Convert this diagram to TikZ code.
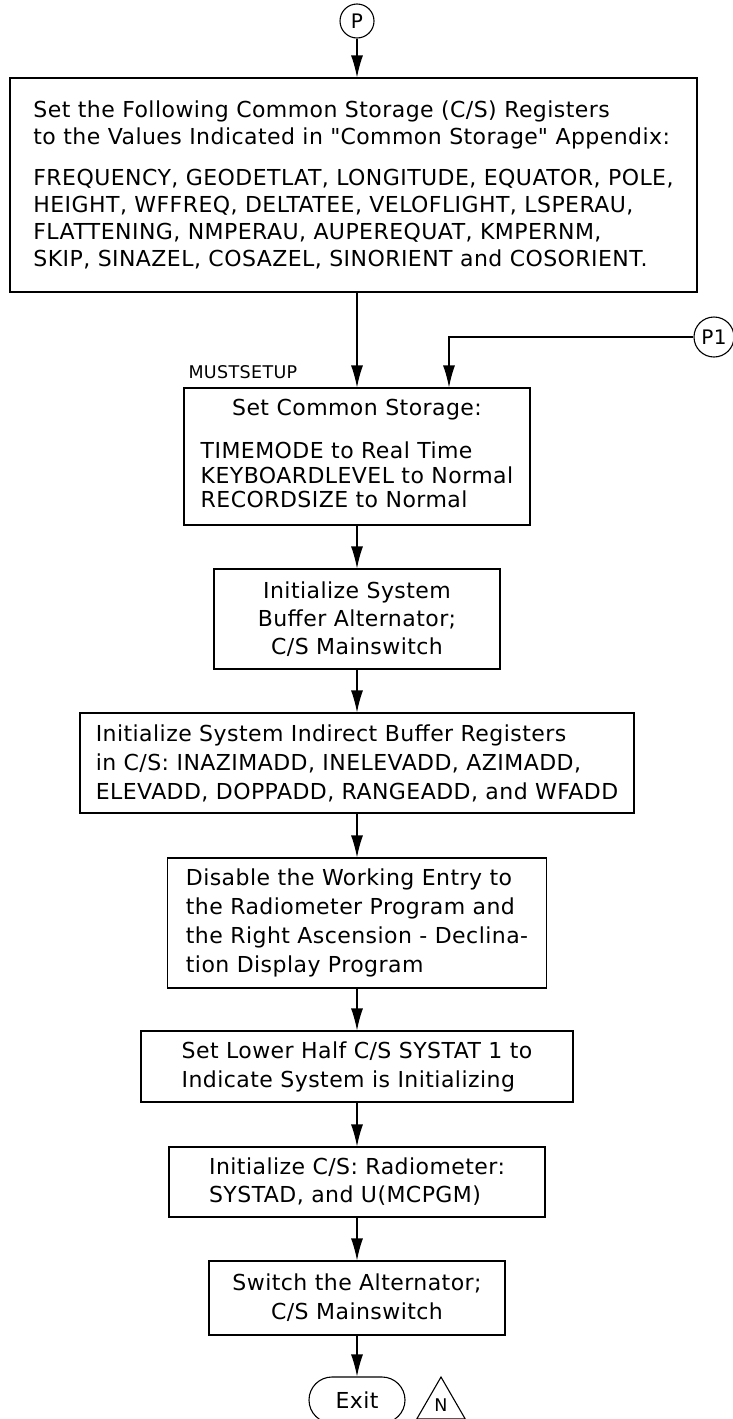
\documentclass[tikz,border=0pt]{standalone}
\usepackage{fontspec}
\setmainfont{DejaVu Sans}[LetterSpace=2]
\usetikzlibrary{arrows.meta,shapes.geometric,shapes.misc}

\begin{document}
\begin{tikzpicture}[x=1pt,y=-1pt,line width=1.1pt,
	>={Latex[length=22pt,width=12pt]},
	txt/.style={font=\fontsize{22}{28}\selectfont},
	stepbox/.style={draw,rectangle,inner sep=0pt,txt},
	conn/.style={draw,circle,inner sep=0pt,minimum size=#1,font=\fontsize{20}{20}\selectfont},
	lbl/.style={font=\fontsize{17.5}{17.5}\selectfont,inner sep=0pt}]
	\useasboundingbox (0,0) rectangle (732,1419);
	\node[conn=34pt] (p) at (357,21) {P};
	\node[conn=40pt] (p1) at (714,337) {P1};
	\node[stepbox,minimum width=687pt,minimum height=214pt,align=left,font=\fontsize{22}{27}\selectfont] (b1) at (353.5,185)
		{Set the Following Common Storage (C/S) Registers\\
		to the Values Indicated in \textquotedbl Common Storage\textquotedbl{} Appendix:\\[14pt]
		FREQUENCY, GEODETLAT, LONGITUDE, EQUATOR, POLE,\\
		HEIGHT, WFFREQ, DELTATEE, VELOFLIGHT, LSPERAU,\\
		FLATTENING, NMPERAU, AUPEREQUAT, KMPERNM,\\
		SKIP, SINAZEL, COSAZEL, SINORIENT and COSORIENT.};
	\node[stepbox,minimum width=346pt,minimum height=137pt,font=\fontsize{22}{24.5}\selectfont] (b2) at (357,456.5)
		{\begin{tabular}{@{}l@{}}
		\multicolumn{1}{@{}c@{}}{Set Common Storage:}\\[19pt]
		TIMEMODE to Real Time\\
		KEYBOARDLEVEL to Normal\\
		RECORDSIZE to Normal
		\end{tabular}};
	\node[lbl,anchor=base west] (mustsetup) at (188,378) {MUSTSETUP};
	\node[stepbox,minimum width=286pt,minimum height=100pt,align=center] (b3) at (357,619)
		{Initialize System\\ Buffer Alternator;\\ C/S Mainswitch};
	\node[stepbox,minimum width=554pt,minimum height=100pt,align=left,font=\fontsize{22}{29}\selectfont] (b4) at (357,763)
		{Initialize System Indirect Buffer Registers\\
		in C/S: INAZIMADD, INELEVADD, AZIMADD,\\
		ELEVADD, DOPPADD, RANGEADD, and WFADD};
	\node[stepbox,minimum width=379pt,minimum height=130pt,align=left,font=\fontsize{22}{29}\selectfont] (b5) at (357,923)
		{Disable the Working Entry to\\
		the Radiometer Program and\\
		the Right Ascension - Declina-\\
		tion Display Program};
	\node[stepbox,minimum width=432pt,minimum height=71pt,align=left,font=\fontsize{22}{29}\selectfont] (b6) at (357,1066.5)
		{Set Lower Half C/S SYSTAT 1 to\\ Indicate System is Initializing};
	\node[stepbox,minimum width=376pt,minimum height=70pt,align=left] (b7) at (357,1182)
		{Initialize C/S: Radiometer:\\ SYSTAD, and U(MCPGM)};
	\node[stepbox,minimum width=296pt,minimum height=74pt,align=center,font=\fontsize{22}{29}\selectfont] (b8) at (357,1298)
		{Switch the Alternator;\\ C/S Mainswitch};
	\node[draw,rounded rectangle,minimum width=96pt,minimum height=46pt,inner sep=0pt,txt] (exit) at (357,1400) {Exit};
	\node[draw,regular polygon,regular polygon sides=3,minimum size=56pt,inner sep=0pt,lbl] (n) at (441,1405) {N};
	\draw[->] (p) -- (p |- b1.north);
	\draw[->] (b1.south -| b2) -- (b2);
	\draw[->] (p1) -| ([xshift=92pt]b2.north);
	\draw[->] (b2) -- (b3);
	\draw[->] (b3) -- (b4);
	\draw[->] (b4) -- (b5);
	\draw[->] (b5) -- (b6);
	\draw[->] (b6) -- (b7);
	\draw[->] (b7) -- (b8);
	\draw[->] (b8) -- (exit);
\end{tikzpicture}
\end{document}
